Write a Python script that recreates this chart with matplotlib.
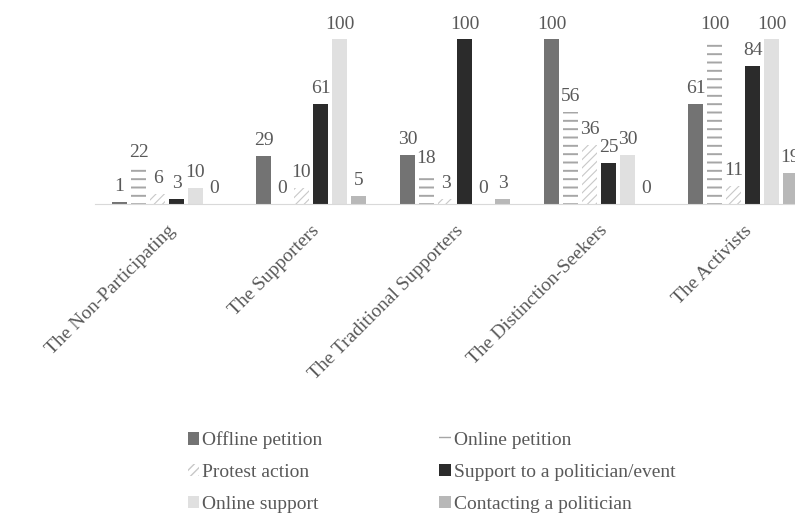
import numpy as np
import matplotlib.pyplot as plt
from matplotlib.patches import Patch

plt.rcParams['font.family'] = ['Liberation Serif', 'DejaVu Serif']

groups = ['The Non-Participating', 'The Supporters', 'The Traditional Supporters',
          'The Distinction-Seekers', 'The Activists']
series = ['Offline petition', 'Online petition', 'Protest action',
          'Support to a politician/event', 'Online support', 'Contacting a politician']
offline_petition = [1, 29, 30, 100, 61]
online_petition = [22, 0, 18, 56, 100]
protest_action = [6, 10, 3, 36, 11]
support_politician = [3, 61, 100, 25, 84]
online_support = [10, 100, 0, 30, 100]
contacting = [0, 5, 3, 0, 19]
values = [offline_petition, online_petition, protest_action,
          support_politician, online_support, contacting]

# face, hatch colour, hatch
styles = [
    ('#737373', None, ''),
    ('white', '#a6a6a6', '--'),
    ('white', '#c8c8c8', '////'),
    ('#2b2b2b', None, ''),
    ('#e0e0e0', None, ''),
    ('#b8b8b8', None, ''),
]

W, H = 795, 517
fig = plt.figure(figsize=(W / 100, H / 100), dpi=100)
ax = fig.add_axes([95 / W, 313 / H, 720 / W, 204 / H])

x = np.arange(len(groups))
step = 19 / 144
width = 15 / 144
txt = '#595959'
for i, (vals, (fc, hc, hatch)) in enumerate(zip(values, styles)):
    pos = x + (i - 2.5) * step
    if hatch:
        bars = ax.bar(pos, vals, width, color=fc, edgecolor=hc, hatch=hatch, linewidth=0)
        for b in bars:
            b.set_hatch_linewidth(1.4 if hatch == '--' else 0.8)
    else:
        bars = ax.bar(pos, vals, width, color=fc, linewidth=0)
    for p, v in zip(pos, vals):
        ax.annotate(str(v), (p, v), xytext=(0, 5), textcoords='offset points',
                    ha='center', va='bottom', fontsize=14, color=txt)

ax.set_xlim(-0.5, 4.5)
ax.set_ylim(0, 124)
ax.set_yticks([])
for s in ['top', 'left', 'right']:
    ax.spines[s].set_visible(False)
ax.spines['bottom'].set_color('#d9d9d9')
ax.set_xticks(x)
ax.set_xticklabels(groups, rotation=45, ha='right', rotation_mode='anchor',
                   fontsize=14, color=txt)
ax.tick_params(axis='x', length=0, pad=13)

handles = []
for lab, (fc, hc, hatch) in zip(series, styles):
    if hatch:
        handles.append(Patch(facecolor=fc, edgecolor=hc, hatch=hatch, linewidth=0, label=lab))
    else:
        handles.append(Patch(facecolor=fc, linewidth=0, label=lab))
# legend fills by column, reorder so it reads row by row
order = [0, 2, 4, 1, 3, 5]
handles = [handles[k] for k in order]
fig.legend(handles=handles, ncol=2, loc='upper left', bbox_to_anchor=(170 / W, 1 - 414 / H),
           frameon=False, fontsize=14, labelcolor=txt, handlelength=0.6, handleheight=0.6,
           handletextpad=0.15, columnspacing=6.0, labelspacing=0.75)

fig.savefig('out.png', dpi=100)
